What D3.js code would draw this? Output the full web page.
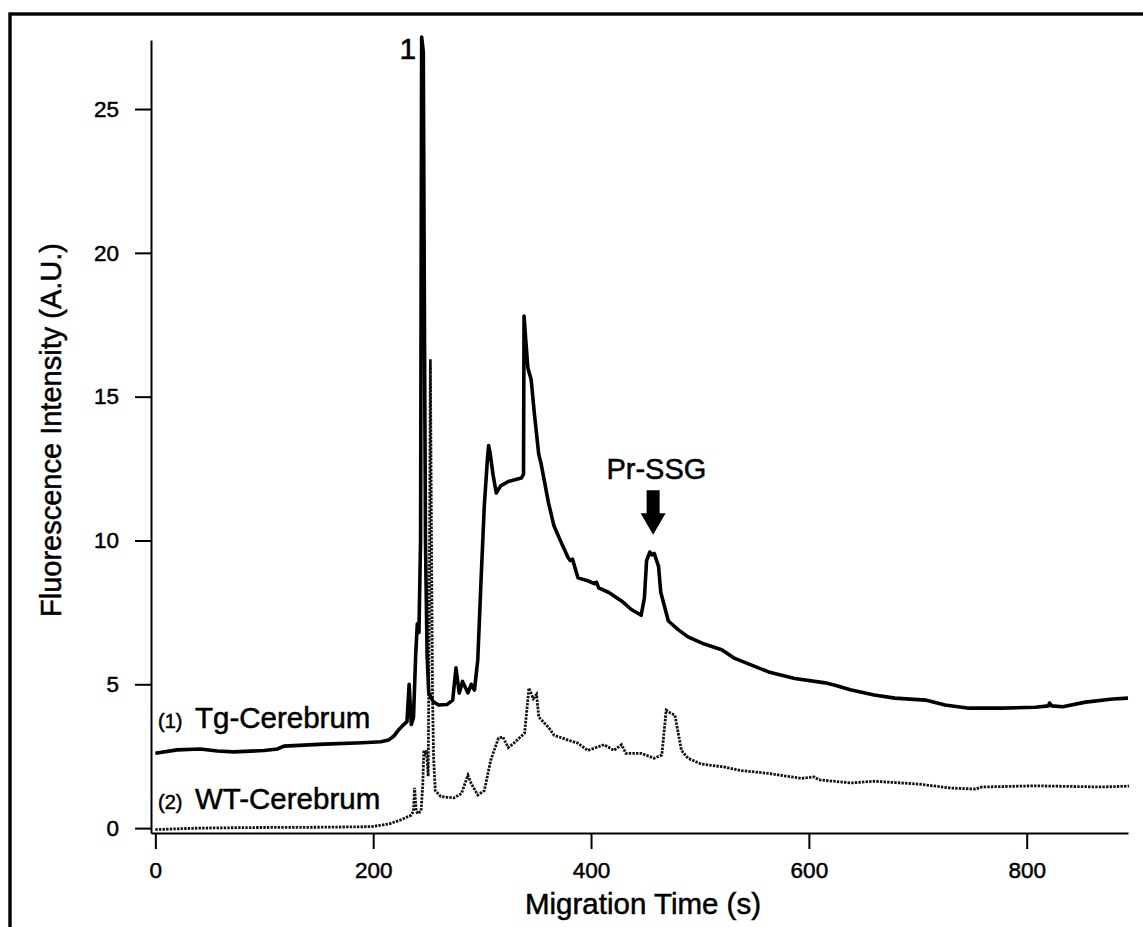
<!DOCTYPE html>
<html>
<head>
<meta charset="utf-8">
<script src="https://cdn.jsdelivr.net/npm/d3@7"></script>
<style>
  body { margin: 0; background: #fff; }
  .container text { font-family: "Liberation Sans", Arial, sans-serif; fill: #000; stroke: #000; stroke-width: 0.5px; }
  .axis path, .axis line { stroke: #000; stroke-width: 2; }
  .tgline { fill: none; stroke: #000; stroke-width: 3.6; stroke-linejoin: round; }
  .wtline { fill: none; stroke: #111; stroke-width: 2.8; stroke-dasharray: 2.4 1.2; }
</style>
</head>
<body>
<div class="container"></div>
<script>
const WIDTH = 1143;
const HEIGHT = 927;
const LEFT = 151;
const RIGHT = 1128;
const TOP = 40;
const BOTTOM = 833;

// migration time (s) and intensity for (1) Tg-Cerebrum
var tgTime = [0, 20, 41, 57, 72, 100, 112, 118, 155, 190, 207, 214, 219, 223, 228, 231, 233, 235, 237, 239,
  240.5, 242, 243.5, 244.5, 246, 247, 248, 249.5, 251, 255, 260, 268, 273, 276, 279, 282, 287, 290, 293,
  296, 299, 302, 305, 306, 307.5, 310, 313, 317, 324, 336, 338, 338.5, 340, 342, 345, 348, 352, 354, 361,
  366, 373, 379, 381, 383, 388, 397, 403, 405, 407, 416, 428, 437, 446, 449, 451, 454, 456, 458, 462, 464,
  471, 480, 489, 504, 520, 532, 563, 587, 615, 624, 639, 660, 679, 707, 725, 747, 777, 808, 820, 821, 823,
  833, 854, 879, 893];
var tgSignal = [2.6, 2.72, 2.75, 2.68, 2.65, 2.7, 2.75, 2.85, 2.92, 2.97, 3.0, 3.06, 3.2, 3.4, 3.6, 3.7, 5.0, 3.6, 3.85, 6.0,
  7.1, 6.8, 10, 27.5, 27.0, 18, 10, 6, 4.7, 4.4, 4.28, 4.3, 4.45, 5.57, 4.7, 5.1, 4.7, 5.0, 4.8,
  5.84, 8.6, 11.2, 12.9, 13.3, 13.0, 12.3, 11.65, 11.9, 12.05, 12.17, 12.3, 17.8, 17.0, 16.0, 15.6, 14.4, 13.0, 12.7, 11.3,
  10.5, 9.9, 9.4, 9.3, 9.35, 8.7, 8.6, 8.5, 8.55, 8.35, 8.2, 7.9, 7.6, 7.4, 8.0, 9.3, 9.6, 9.5, 9.55, 9.1, 8.2,
  7.2, 6.9, 6.65, 6.4, 6.2, 5.9, 5.43, 5.2, 5.05, 4.97, 4.8, 4.63, 4.52, 4.45, 4.28, 4.17, 4.17, 4.2, 4.25, 4.35, 4.25,
  4.22, 4.38, 4.49, 4.52];

// migration time (s) and intensity for (2) WT-Cerebrum
var wtTime = [0, 40, 90, 150, 198, 207, 215, 225, 235, 237, 238, 239.5, 241, 244, 245.5, 246.5, 248, 249, 250.5,
  251.5, 252.5, 253.5, 254.5, 255.5, 257, 262, 274, 281, 287, 290, 296, 302, 308, 315, 319, 324, 329, 339,
  343, 347, 350, 352, 361, 366, 379, 388, 397, 412, 421, 428, 432, 446, 458, 465, 469, 473, 477, 483, 489,
  501, 523, 538, 563, 593, 605, 609, 639, 660, 701, 731, 753, 759, 808, 869, 894];
var wtSignal = [-0.05, 0.0, 0.02, 0.03, 0.05, 0.1, 0.15, 0.28, 0.45, 0.6, 1.4, 0.6, 0.5, 0.6, 1.5, 2.7, 2.6, 2.7, 1.8,
  8, 16.3, 10, 4.45, 2.4, 1.3, 1.1, 1.05, 1.2, 1.84, 1.55, 1.15, 1.3, 2.37, 3.13, 3.17, 2.8, 2.95, 3.3,
  4.87, 4.5, 4.65, 3.86, 3.5, 3.23, 3.06, 2.95, 2.7, 2.9, 2.7, 2.9, 2.6, 2.6, 2.43, 2.54, 4.1, 4.0, 3.93, 2.7, 2.43,
  2.23, 2.12, 2.0, 1.9, 1.73, 1.78, 1.68, 1.57, 1.63, 1.53, 1.39, 1.36, 1.43, 1.47, 1.43, 1.46];

var xTicks = [0, 200, 400, 600, 800];
var yTicks = [0, 5, 10, 15, 20, 25];

var xScale = d3.scaleLinear()
    .domain([-4, 893])
    .range([LEFT, RIGHT]);

var yScale = d3.scaleLinear()
    .domain([-0.17, 27.4])
    .range([BOTTOM, TOP]);

var translate = function(x, y){
    return "translate(" + x + "," + y + ")";
};

var zipSeries = function(times, values){
    return times.map(function(t, i){ return {x: t, y: values[i]}; });
};

var initializeChart = function(){
    var svg = d3.select('.container').append('svg')
        .attr('width', WIDTH)
        .attr('height', HEIGHT);

    // outer frame, runs off the right and bottom edges like the scan
    svg.append('rect')
        .attr('x', 10).attr('y', 14)
        .attr('width', 1160).attr('height', 960)
        .attr('fill', 'none')
        .attr('stroke', '#000')
        .attr('stroke-width', 3.4);

    var xAxis = d3.axisBottom(xScale).tickValues(xTicks).tickSize(16).tickSizeOuter(0).tickPadding(13);
    var yAxis = d3.axisLeft(yScale).tickValues(yTicks).tickSize(16).tickSizeOuter(0).tickPadding(16);

    svg.append('g').attr('class', 'axis')
        .attr('transform', translate(0, BOTTOM))
        .call(xAxis);
    svg.append('g').attr('class', 'axis')
        .attr('transform', translate(LEFT, 0))
        .call(yAxis);

    svg.selectAll('.axis text')
        .style('font-size', '22.5px')
        .style('font-family', '"Liberation Sans", Arial, sans-serif')
        .attr('fill', '#000');

    svg.append('text')
        .attr('x', 643)
        .attr('y', 914)
        .attr('text-anchor', 'middle')
        .style('font-size', '29.5px')
        .text('Migration Time (s)');

    svg.append('text')
        .attr('transform', translate(61, 430) + ' rotate(-90)')
        .attr('text-anchor', 'middle')
        .style('font-size', '29px')
        .text('Fluorescence Intensity (A.U.)');

    return svg;
};

var createLine = function(data, cls, svg){
    var line = d3.line()
        .x(function(d){ return xScale(d.x); })
        .y(function(d){ return yScale(d.y); });
    svg.append('path')
        .datum(data)
        .attr('class', cls)
        .attr('d', line);
};

var addLabels = function(svg){
    // peak 1 label
    svg.append('text')
        .attr('x', xScale(239.5))
        .attr('y', yScale(26.75))
        .attr('text-anchor', 'end')
        .style('font-size', '30px')
        .text('1');

    // Pr-SSG label and arrow
    svg.append('text')
        .attr('x', xScale(460))
        .attr('y', yScale(12.15))
        .attr('text-anchor', 'middle')
        .style('font-size', '29px')
        .text('Pr-SSG');

    var ax = xScale(457);
    var yTop = yScale(11.75), yBase = yScale(10.95), yTip = yScale(10.2);
    svg.append('path')
        .attr('d', 'M' + (ax - 6.5) + ',' + yTop + 'H' + (ax + 6.5) + 'V' + yBase + 'H' + (ax + 12.5) +
            'L' + ax + ',' + yTip + 'L' + (ax - 12.5) + ',' + yBase + 'H' + (ax - 6.5) + 'Z')
        .attr('fill', '#000');

    // trace labels
    var legend = [
        {num: '(1)', name: 'Tg-Cerebrum', y: 3.48},
        {num: '(2)', name: 'WT-Cerebrum', y: 0.66}
    ];
    legend.forEach(function(d){
        var t = svg.append('text')
            .attr('x', 158)
            .attr('y', yScale(d.y));
        t.append('tspan').style('font-size', '20px').text(d.num);
        t.append('tspan').attr('x', 195).style('font-size', '29.5px').text(d.name);
    });
};

var loadChart = function(){
    var svg = initializeChart();
    createLine(zipSeries(wtTime, wtSignal), 'wtline', svg);
    createLine(zipSeries(tgTime, tgSignal), 'tgline', svg);
    addLabels(svg);
};

window.onload = loadChart;
</script>
</body>
</html>
